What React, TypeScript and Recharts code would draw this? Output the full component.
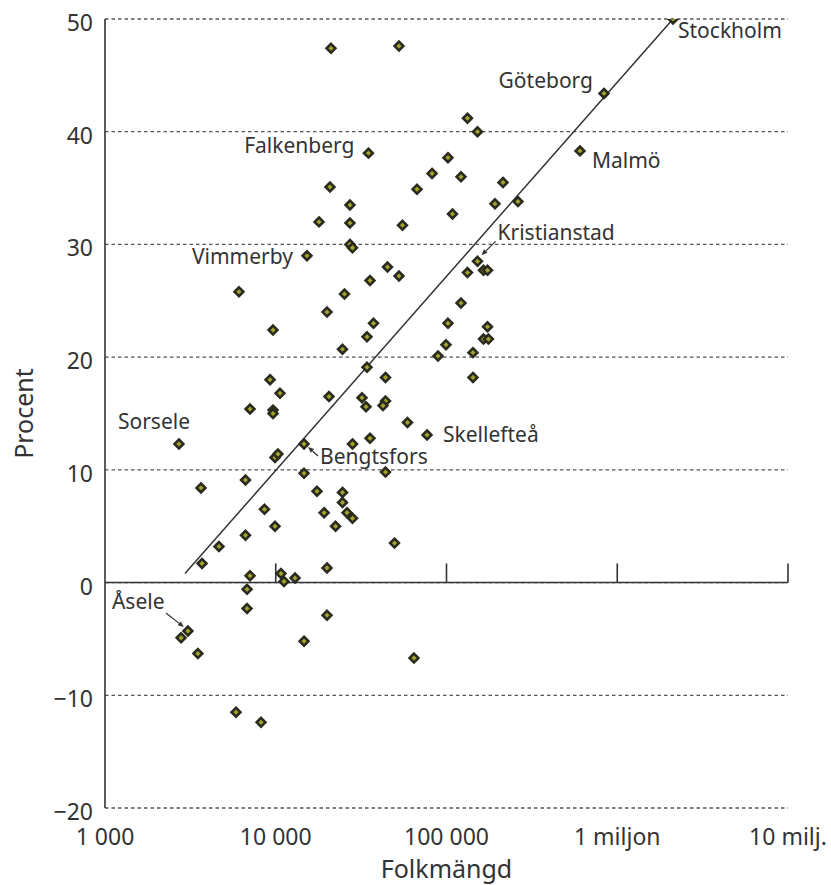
import { ScatterChart, Scatter, XAxis, YAxis, CartesianGrid, ReferenceLine } from "recharts";

// Kommuner utan namn: folkmängd och procent
const otherPop = [
  21060, 52700, 132700, 151900, 102000, 82300, 121600, 214200, 20780, 67200,
  262200, 192300, 27200, 108400, 17920, 27200, 55250, 27200, 28150, 45130,
  164700, 173900, 132700, 52700, 35650, 6090, 25270, 121600, 19960, 37370,
  102000, 173900, 9640, 34230, 164700, 176000, 99300, 24600, 142900, 89200,
  34230, 43930, 142900, 9260, 10590, 20510, 32000, 43930, 33780, 42470,
  7070, 9640, 9640, 59100, 35650, 28150, 9900, 10300, 14640, 43930,
  6650, 3650, 17440, 24600, 24600, 26140, 28150, 8590, 19200, 9900,
  22400, 6650, 49600, 4650, 3700, 19960, 7070, 10730, 11180, 12970,
  6790, 6790, 19960, 2790, 14640, 3500, 64500, 5850, 8200,
];
const otherPct = [
  47.4, 47.6, 41.2, 40.0, 37.7, 36.3, 36.0, 35.5, 35.1, 34.9,
  33.8, 33.6, 33.5, 32.7, 32.0, 31.9, 31.7, 30.0, 29.7, 28.0,
  27.7, 27.7, 27.5, 27.2, 26.8, 25.8, 25.6, 24.8, 24.0, 23.0,
  23.0, 22.7, 22.4, 21.8, 21.6, 21.6, 21.1, 20.7, 20.4, 20.1,
  19.1, 18.2, 18.2, 18.0, 16.8, 16.5, 16.4, 16.1, 15.6, 15.7,
  15.4, 15.3, 15.0, 14.2, 12.8, 12.3, 11.1, 11.4, 9.7, 9.8,
  9.1, 8.4, 8.1, 8.0, 7.1, 6.2, 5.7, 6.5, 6.2, 5.0,
  5.0, 4.2, 3.5, 3.2, 1.7, 1.3, 0.6, 0.8, 0.1, 0.4,
  -0.6, -2.3, -2.9, -4.9, -5.2, -6.3, -6.7, -11.5, -12.4,
];

// Kommuner med namn
const namedTowns = [
  "Stockholm", "Göteborg", "Malmö", "Kristianstad", "Falkenberg",
  "Vimmerby", "Sorsele", "Bengtsfors", "Skellefteå", "Åsele",
];
const namedPop = [2121000, 836500, 605000, 151900, 34900, 15240, 2710, 14640, 76900, 3060];
const namedPct = [50, 43.4, 38.3, 28.5, 38.1, 29.0, 12.3, 12.3, 13.1, -4.3];

// Regressionslinjen
const trendPop = [2940, 2120000];
const trendPct = [0.8, 50];

const xTicks = [1000, 10000, 100000, 1000000, 10000000];
const xTickLabels = ["1 000", "10 000", "100 000", "1 miljon", "10 milj."];
const yTicks = [-20, -10, 0, 10, 20, 30, 40, 50];

const FONT = "'Noto Sans', sans-serif";
const INK = "#333333";

// var texten hamnar i förhållande till punkten
const LABEL_POS: Record<string, { dx: number; dy: number; anchor: "start" | "end"; arrow?: number[] }> = {
  Stockholm: { dx: 5, dy: 12, anchor: "start" },
  Göteborg: { dx: -11, dy: -13, anchor: "end" },
  Malmö: { dx: 12, dy: 10, anchor: "start" },
  Kristianstad: { dx: 20, dy: -29, anchor: "start", arrow: [18, -20, 4, -6] },
  Falkenberg: { dx: -14, dy: -7, anchor: "end" },
  Vimmerby: { dx: -14, dy: 1, anchor: "end" },
  Sorsele: { dx: -61, dy: -22, anchor: "start" },
  Bengtsfors: { dx: 16, dy: 13, anchor: "start", arrow: [14, 12, 4, 3] },
  Skellefteå: { dx: 16, dy: 0, anchor: "start" },
  Åsele: { dx: -76, dy: -29, anchor: "start", arrow: [-22, -18, -4, -4] },
};

const otherData = otherPop.map((pop, i) => ({ pop, pct: otherPct[i] }));
const namedData = namedPop.map((pop, i) => ({ pop, pct: namedPct[i], name: namedTowns[i] }));

function Diamond({ cx, cy }: { cx: number; cy: number }) {
  const r = 4.4;
  return (
    <path
      d={`M${cx},${cy - r}L${cx + r},${cy}L${cx},${cy + r}L${cx - r},${cy}Z`}
      fill="#a3a32c"
      stroke="#2a2a1e"
      strokeWidth={2.6}
    />
  );
}

function Arrow({ a, cx, cy }: { a: number[]; cx: number; cy: number }) {
  const [x1, y1, x2, y2] = [cx + a[0], cy + a[1], cx + a[2], cy + a[3]];
  const ang = Math.atan2(y2 - y1, x2 - x1);
  const len = 6;
  const w = 2.5;
  const bx = x2 - len * Math.cos(ang);
  const by = y2 - len * Math.sin(ang);
  const px = -Math.sin(ang) * w;
  const py = Math.cos(ang) * w;
  return (
    <g>
      <line x1={x1} y1={y1} x2={bx} y2={by} stroke={INK} strokeWidth={1.2} />
      <path d={`M${x2},${y2}L${bx + px},${by + py}L${bx - px},${by - py}Z`} fill={INK} />
    </g>
  );
}

function NamedPoint(props: any) {
  const { cx, cy, payload } = props;
  const pos = LABEL_POS[payload.name];
  return (
    <g>
      {pos.arrow && <Arrow a={pos.arrow} cx={cx} cy={cy} />}
      <Diamond cx={cx} cy={cy} />
      <text
        x={cx + pos.dx}
        y={cy + pos.dy}
        dy="0.35em"
        textAnchor={pos.anchor}
        fontFamily={FONT}
        fontSize={21}
        fill={INK}
      >
        {payload.name}
      </text>
    </g>
  );
}

const renderXTick = ({ x, y, payload }: any) => (
  <text x={x} y={y} dy="0.71em" textAnchor="middle" fontFamily={FONT} fontSize={23} fill={INK}>
    {xTickLabels[xTicks.indexOf(payload.value)]}
  </text>
);

const renderYTick = ({ x, y, payload }: any) => (
  <text x={x} y={y + 4} dy="0.35em" textAnchor="end" fontFamily={FONT} fontSize={23} fill={INK}>
    {payload.value < 0 ? `\u2212${Math.abs(payload.value)}` : payload.value}
  </text>
);

const renderYLabel = (props: any) => {
  const vb = props.viewBox;
  const x = vb.x + 24;
  const y = vb.y + vb.height / 2;
  return (
    <text
      x={x}
      y={y}
      transform={`rotate(-90, ${x}, ${y})`}
      textAnchor="middle"
      dy="0.35em"
      fontFamily={FONT}
      fontSize={25}
      fill={INK}
    >
      Procent
    </text>
  );
};

export default function App() {
  return (
    <div style={{ position: "absolute", left: 0, top: 0, background: "#fff" }}>
      <ScatterChart width={831} height={885} margin={{ top: 19, right: 43, bottom: 0, left: 0 }}>
        <CartesianGrid horizontal vertical={false} stroke="#555" strokeWidth={1.3} strokeDasharray="3.5 3" />
        <XAxis
          type="number"
          dataKey="pop"
          scale="log"
          domain={[1000, 10000000]}
          ticks={xTicks}
          allowDataOverflow
          axisLine={false}
          tickLine={false}
          height={77}
          tickMargin={15}
          tick={renderXTick}
          label={{ value: "Folkmängd", position: "insideBottom", offset: 7, fill: INK, fontSize: 25, fontFamily: FONT }}
        />
        <YAxis
          type="number"
          dataKey="pct"
          domain={[-20, 50]}
          ticks={yTicks}
          allowDataOverflow
          width={105}
          axisLine={{ stroke: INK, strokeWidth: 1.6 }}
          tickLine={false}
          tickMargin={6}
          tick={renderYTick}
          label={renderYLabel}
        />
        <ReferenceLine y={0} stroke={INK} strokeWidth={1.6} />
        {xTicks.slice(1).map((t) => (
          <ReferenceLine
            key={t}
            segment={[{ x: t, y: 0 }, { x: t, y: 1.7 }]}
            stroke={INK}
            strokeWidth={1.6}
          />
        ))}
        <ReferenceLine
          segment={[{ x: trendPop[0], y: trendPct[0] }, { x: trendPop[1], y: trendPct[1] }]}
          stroke={INK}
          strokeWidth={1.5}
        />
        <Scatter data={otherData} isAnimationActive={false} shape={(p: any) => <Diamond cx={p.cx} cy={p.cy} />} />
        <Scatter data={namedData} isAnimationActive={false} shape={NamedPoint} />
      </ScatterChart>
    </div>
  );
}
